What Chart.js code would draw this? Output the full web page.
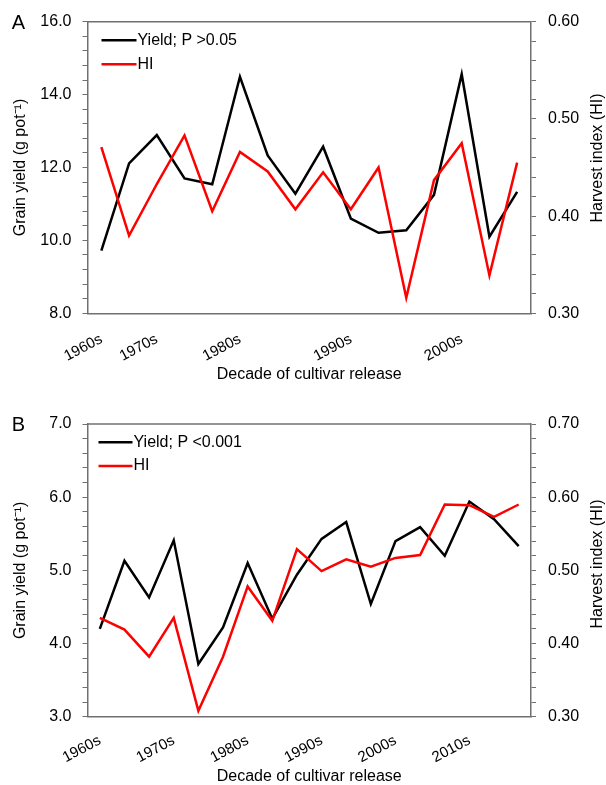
<!DOCTYPE html>
<html>
<head>
<meta charset="utf-8">
<script src="https://cdn.jsdelivr.net/npm/chart.js@4.4.1/dist/chart.umd.min.js"></script>
<style>
  html, body { margin: 0; padding: 0; background: #fff; width: 606px; height: 785px; overflow: hidden; }
  canvas { position: absolute; left: 0; }
  #chartA { top: 0; }
  #chartB { top: 392px; }
</style>
</head>
<body>
<canvas id="chartA" width="606" height="392"></canvas>
<canvas id="chartB" width="606" height="393"></canvas>
<script>
// ---------- Panel A data ----------
const ticksA = ['1960s', '', '1970s', '', '', '1980s', '', '', '', '1990s', '', '', '', '2000s', '', ''];
const yieldA = [9.72, 12.11, 12.89, 11.70, 11.54, 14.49, 12.33, 11.28, 12.57, 10.60, 10.21, 10.28, 11.25, 14.56, 10.10, 11.33];
const hiA    = [0.471, 0.380, 0.433, 0.483, 0.405, 0.466, 0.446, 0.407, 0.445, 0.407, 0.450, 0.316, 0.437, 0.475, 0.339, 0.455];
const namesA = ['Yield; P >0.05', 'HI'];

// ---------- Panel B data ----------
const ticksB = ['1960s', '', '', '1970s', '', '', '1980s', '', '', '1990s', '', '', '2000s', '', '', '2010s', '', ''];
const yieldB = [4.20, 5.13, 4.63, 5.41, 3.72, 4.22, 5.10, 4.34, 4.94, 5.43, 5.66, 4.54, 5.40, 5.59, 5.20, 5.94, 5.70, 5.33];
const hiB    = [0.435, 0.419, 0.382, 0.435, 0.308, 0.382, 0.478, 0.431, 0.529, 0.499, 0.515, 0.505, 0.517, 0.521, 0.590, 0.589, 0.573, 0.590];
const namesB = ['Yield; P <0.001', 'HI'];

const xTitle = 'Decade of cultivar release';
const yTitle = 'Grain yield (g pot\u207B\u00B9)';
const y1Title = 'Harvest index (HI)';

const FAMILY = "'Liberation Sans', Arial, Helvetica, sans-serif";
const AX = '#707070';

function isMultiple(v, m) {
  const q = v / m;
  return Math.abs(q - Math.round(q)) < 1e-6;
}

const decor = {
  id: 'panelDecor',
  afterDraw(chart, args, opts) {
    const ctx = chart.ctx;
    const ca = chart.chartArea;
    ctx.save();
    // top frame line
    ctx.strokeStyle = AX;
    ctx.lineWidth = 1.5;
    ctx.beginPath();
    ctx.moveTo(ca.left, ca.top);
    ctx.lineTo(ca.right, ca.top);
    ctx.stroke();
    // legend inside plot
    ctx.font = '16px ' + FAMILY;
    ctx.textBaseline = 'middle';
    ctx.textAlign = 'left';
    chart.data.datasets.forEach((ds, i) => {
      const y = ca.top + opts.legY[i];
      const x0 = ca.left + opts.legX;
      ctx.strokeStyle = ds.borderColor;
      ctx.lineWidth = ds.borderWidth;
      ctx.beginPath();
      ctx.moveTo(x0, y);
      ctx.lineTo(x0 + opts.legLen, y);
      ctx.stroke();
      ctx.fillStyle = '#000';
      ctx.fillText(ds.label, x0 + opts.legLen + 1, y);
    });
    // panel letter
    ctx.font = '20px ' + FAMILY;
    ctx.textAlign = 'center';
    ctx.fillStyle = '#000';
    ctx.fillText(opts.letter, opts.letterX, opts.letterY);
    // right axis title (reads bottom to top)
    ctx.translate(opts.rtX, opts.rtY);
    ctx.rotate(-Math.PI / 2);
    ctx.font = '16px ' + FAMILY;
    ctx.fillText(y1Title, 0, 0);
    ctx.restore();
  }
};

function makeChart(id, o) {
  const tickFont = { family: FAMILY, size: 16 };
  const xTickFont = { family: FAMILY, size: 15 };
  const titleFont = { family: FAMILY, size: 16, lineHeight: 1 };
  return new Chart(document.getElementById(id), {
    type: 'line',
    data: {
      labels: o.ticks,
      datasets: [
        { label: o.names[0], data: o.yield, yAxisID: 'y', borderColor: '#000000', backgroundColor: '#000000', borderWidth: 2.5, order: 2 },
        { label: o.names[1], data: o.hi, yAxisID: 'y1', borderColor: '#ff0000', backgroundColor: '#ff0000', borderWidth: 2.5, order: 1 }
      ]
    },
    options: {
      responsive: false,
      animation: false,
      devicePixelRatio: 1,
      events: [],
      layout: { padding: { top: o.top, left: 0, right: 0, bottom: 0 } },
      elements: {
        point: { radius: 0, hoverRadius: 0 },
        line: { tension: 0, fill: false, borderJoinStyle: 'miter', borderCapStyle: 'butt' }
      },
      plugins: {
        legend: { display: false },
        tooltip: { enabled: false },
        panelDecor: o.decor
      },
      scales: {
        x: {
          type: 'category',
          offset: true,
          grid: { display: false, drawTicks: false },
          border: { display: true, color: AX, width: 1.5 },
          ticks: { autoSkip: false, minRotation: 28, maxRotation: 28, padding: o.xPad, color: '#000', font: xTickFont },
          title: { display: true, text: xTitle, color: '#000', font: titleFont, padding: { top: 0, bottom: o.xTitlePad } },
          afterFit: (s) => { s.height = o.xHeight; }
        },
        y: {
          position: 'left',
          min: o.yMin, max: o.yMax,
          grid: { display: true, drawOnChartArea: false, drawTicks: true, tickLength: 5, color: AX, lineWidth: 1 },
          border: { display: true, color: AX, width: 1.5 },
          ticks: {
            stepSize: o.yStep, autoSkip: false, padding: 11, color: '#000', font: tickFont,
            callback: (v) => isMultiple(v, o.yLabelStep) ? Number(v).toFixed(1) : ''
          },
          title: { display: true, text: yTitle, color: '#000', font: titleFont, padding: { top: 12.7, bottom: 0 } },
          afterFit: (s) => { s.width = 87.5; }
        },
        y1: {
          position: 'right',
          min: o.y1Min, max: o.y1Max,
          grid: { display: true, drawOnChartArea: false, drawTicks: true, tickLength: 5, color: AX, lineWidth: 1 },
          border: { display: true, color: AX, width: 1.5 },
          ticks: {
            stepSize: 0.02, autoSkip: false, padding: 12, color: '#000', font: tickFont,
            callback: (v) => isMultiple(v, 0.1) ? Number(v).toFixed(2) : ''
          },
          afterFit: (s) => { s.width = 75; }
        }
      }
    },
    plugins: [decor]
  });
}

makeChart('chartA', {
  ticks: ticksA, yield: yieldA, hi: hiA, names: namesA,
  top: 21.7, xHeight: 78.7, xPad: 17, xTitlePad: 9,
  yMin: 8, yMax: 16, yStep: 0.4, yLabelStep: 2,
  y1Min: 0.3, y1Max: 0.6,
  decor: { legX: 14, legLen: 35, legY: [18.6, 42.6], letter: 'A', letterX: 18.5, letterY: 23.5, rtX: 598, rtY: 158 }
});

makeChart('chartB', {
  ticks: ticksB, yield: yieldB, hi: hiB, names: namesB,
  top: 32, xHeight: 68.3, xPad: 15, xTitlePad: 0,
  yMin: 3, yMax: 7, yStep: 0.2, yLabelStep: 1,
  y1Min: 0.3, y1Max: 0.7,
  decor: { legX: 11, legLen: 34, legY: [18.3, 42], letter: 'B', letterX: 18.5, letterY: 33, rtX: 598, rtY: 172 }
});
</script>
</body>
</html>
